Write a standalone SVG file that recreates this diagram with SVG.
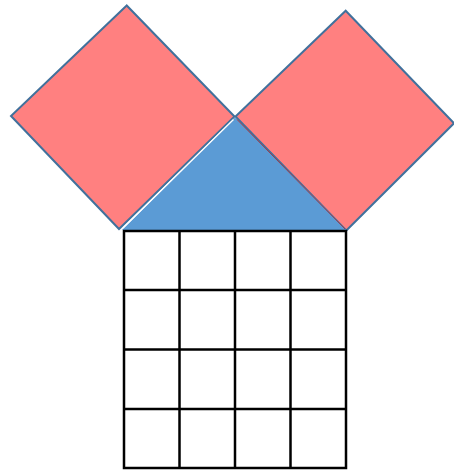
<svg xmlns="http://www.w3.org/2000/svg" width="454" height="470" viewBox="0 0 454 470">
<style>
.sq{fill:#FF8080;stroke:#41719C;stroke-width:2;stroke-linejoin:miter}
.tri{fill:#5B9BD5;stroke:none}
.grid{fill:none;stroke:#000;stroke-width:2.5}
</style>
<rect width="454" height="470" fill="#fff"/>
<g id="square-left"><polygon class="sq" points="126.7,5.5 11,116 119,229 234.5,116.5"/></g>
<g id="square-right"><polygon class="sq" points="345.7,10.7 454,123.3 346.3,230.5 235.5,116.5"/></g>
<g id="triangle">
<polygon class="tri" points="235,117.5 122,230 346.5,230"/>
<line x1="123" y1="228" x2="233.5" y2="119.5" stroke="#fff" stroke-width="1.2"/>
<line x1="237" y1="119.5" x2="345" y2="229" stroke="#9E3A4A" stroke-width="1"/>
</g>
<g id="grid">
<rect class="grid" x="124" y="231" width="222" height="237"/>
<line class="grid" x1="179.5" y1="231" x2="179.5" y2="468"/>
<line class="grid" x1="235" y1="231" x2="235" y2="468"/>
<line class="grid" x1="290.5" y1="231" x2="290.5" y2="468"/>
<line class="grid" x1="124" y1="290" x2="346" y2="290"/>
<line class="grid" x1="124" y1="349.5" x2="346" y2="349.5"/>
<line class="grid" x1="124" y1="409" x2="346" y2="409"/>
</g>
</svg>
